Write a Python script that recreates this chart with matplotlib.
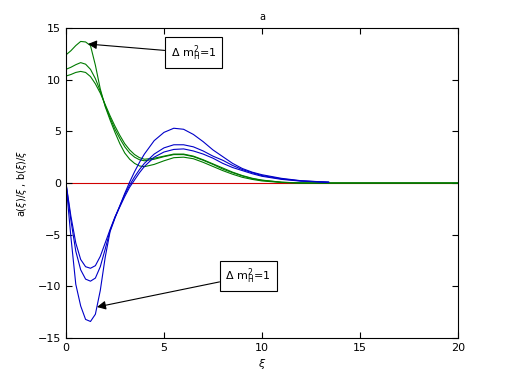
import matplotlib
matplotlib.use('Agg')
import matplotlib.pyplot as plt

# valores
xi_g = [0, 0.25, 0.5, 0.75, 1.0, 1.25, 1.5, 1.75, 2.0, 2.25, 2.5, 2.75, 3.0,
        3.25, 3.5, 3.75, 4.0, 4.5, 5.0, 5.5, 6.0, 6.5, 7.0, 7.5, 8.0, 8.5,
        9.0, 9.5, 10, 11, 12, 20]
a1 = [12.4, 12.8, 13.3, 13.7, 13.65, 13.3, 11.4, 9.1, 7.4, 6.1, 4.9, 3.8, 2.9,
      2.3, 1.9, 1.65, 1.58, 1.8, 2.15, 2.45, 2.5, 2.35, 2.0, 1.6, 1.2, 0.85,
      0.55, 0.35, 0.2, 0.05, 0.0, 0.0]
a2 = [11.0, 11.2, 11.45, 11.65, 11.5, 11.0, 10.1, 8.9, 7.5, 6.3, 5.2, 4.3, 3.5,
      2.9, 2.5, 2.25, 2.15, 2.3, 2.55, 2.75, 2.75, 2.55, 2.2, 1.8, 1.35, 1.0,
      0.68, 0.42, 0.26, 0.07, 0.0, 0.0]
a3 = [10.35, 10.5, 10.7, 10.8, 10.7, 10.3, 9.6, 8.7, 7.6, 6.5, 5.5, 4.6, 3.8,
      3.2, 2.75, 2.45, 2.3, 2.4, 2.6, 2.8, 2.8, 2.6, 2.25, 1.85, 1.45, 1.05,
      0.72, 0.46, 0.28, 0.08, 0.0, 0.0]

xi_b = [0, 0.25, 0.5, 0.75, 1.0, 1.25, 1.5, 1.75, 2.0, 2.25, 2.5, 2.75, 3.0,
        3.25, 3.5, 3.75, 4.0, 4.5, 5.0, 5.5, 6.0, 6.5, 7.0, 7.5, 8.0, 8.5,
        9.0, 9.5, 10, 11, 12, 13.4]
b1 = [0, -5.2, -9.8, -11.9, -13.2, -13.4, -12.7, -10.4, -7.2, -4.7, -3.4, -2.2,
      -1.0, 0.1, 1.1, 2.0, 2.8, 4.1, 4.9, 5.3, 5.2, 4.7, 4.0, 3.2, 2.55, 1.9,
      1.4, 1.05, 0.8, 0.45, 0.22, 0.08]
b2 = [0, -3.6, -6.6, -8.4, -9.3, -9.5, -9.2, -8.1, -6.4, -4.6, -3.3, -2.2,
      -1.1, -0.2, 0.6, 1.3, 1.9, 2.8, 3.4, 3.7, 3.7, 3.5, 3.1, 2.6, 2.2, 1.7,
      1.3, 1.0, 0.72, 0.4, 0.2, 0.08]
b3 = [0, -3.2, -5.8, -7.4, -8.1, -8.25, -8.0, -7.1, -5.8, -4.5, -3.3, -2.3,
      -1.3, -0.4, 0.3, 1.0, 1.6, 2.5, 3.0, 3.25, 3.3, 3.1, 2.8, 2.4, 1.9, 1.5,
      1.2, 0.9, 0.65, 0.35, 0.18, 0.07]

xi_zero = [0, 20]
zero = [0, 0]

label_dm = r'$\Delta\ \mathrm{m}_\mathrm{H}^2$=1'

plt.figure(figsize=(5.06, 3.8), dpi=100)
ax = plt.axes([0.1304, 0.1105, 0.7747, 0.8158])

verde = '#007a00'
azul = '#0000c8'
plt.plot(xi_zero, zero, color='#d00000', lw=0.8, zorder=1)
for a in (a1, a2, a3):
    plt.plot(xi_g, a, color=verde, lw=0.8, zorder=2)
for b in (b1, b2, b3):
    plt.plot(xi_b, b, color=azul, lw=0.8, zorder=2)

seta = dict(arrowstyle='-|>', color='k', lw=0.8, mutation_scale=13,
            shrinkA=0, shrinkB=0)
caixa = dict(boxstyle='square,pad=0.5', fc='white', ec='k', lw=0.8)
plt.annotate(label_dm, xy=(1.12, 13.45), xytext=(6.5, 12.6), fontsize=8,
             ha='center', va='center', bbox=caixa, arrowprops=seta)
plt.annotate(label_dm, xy=(1.58, -12.0), xytext=(9.3, -9.0), fontsize=8,
             ha='center', va='center', bbox=caixa, arrowprops=seta)

plt.xlim(0, 20)
plt.ylim(-15, 15)
plt.xticks([0, 5, 10, 15, 20])
plt.yticks([-15, -10, -5, 0, 5, 10, 15])
ax.tick_params(direction='in', top=True, right=True, length=4, width=0.8,
               labelsize=8)
for s in ax.spines.values():
    s.set_linewidth(0.8)
plt.title('a', fontsize=7, pad=6)
plt.xlabel(r'$\xi$', fontsize=8, labelpad=3)
plt.ylabel(r'a($\xi$)/$\xi$ , b($\xi$)/$\xi$', fontsize=7, labelpad=6)

plt.savefig('out.png', dpi=100)
